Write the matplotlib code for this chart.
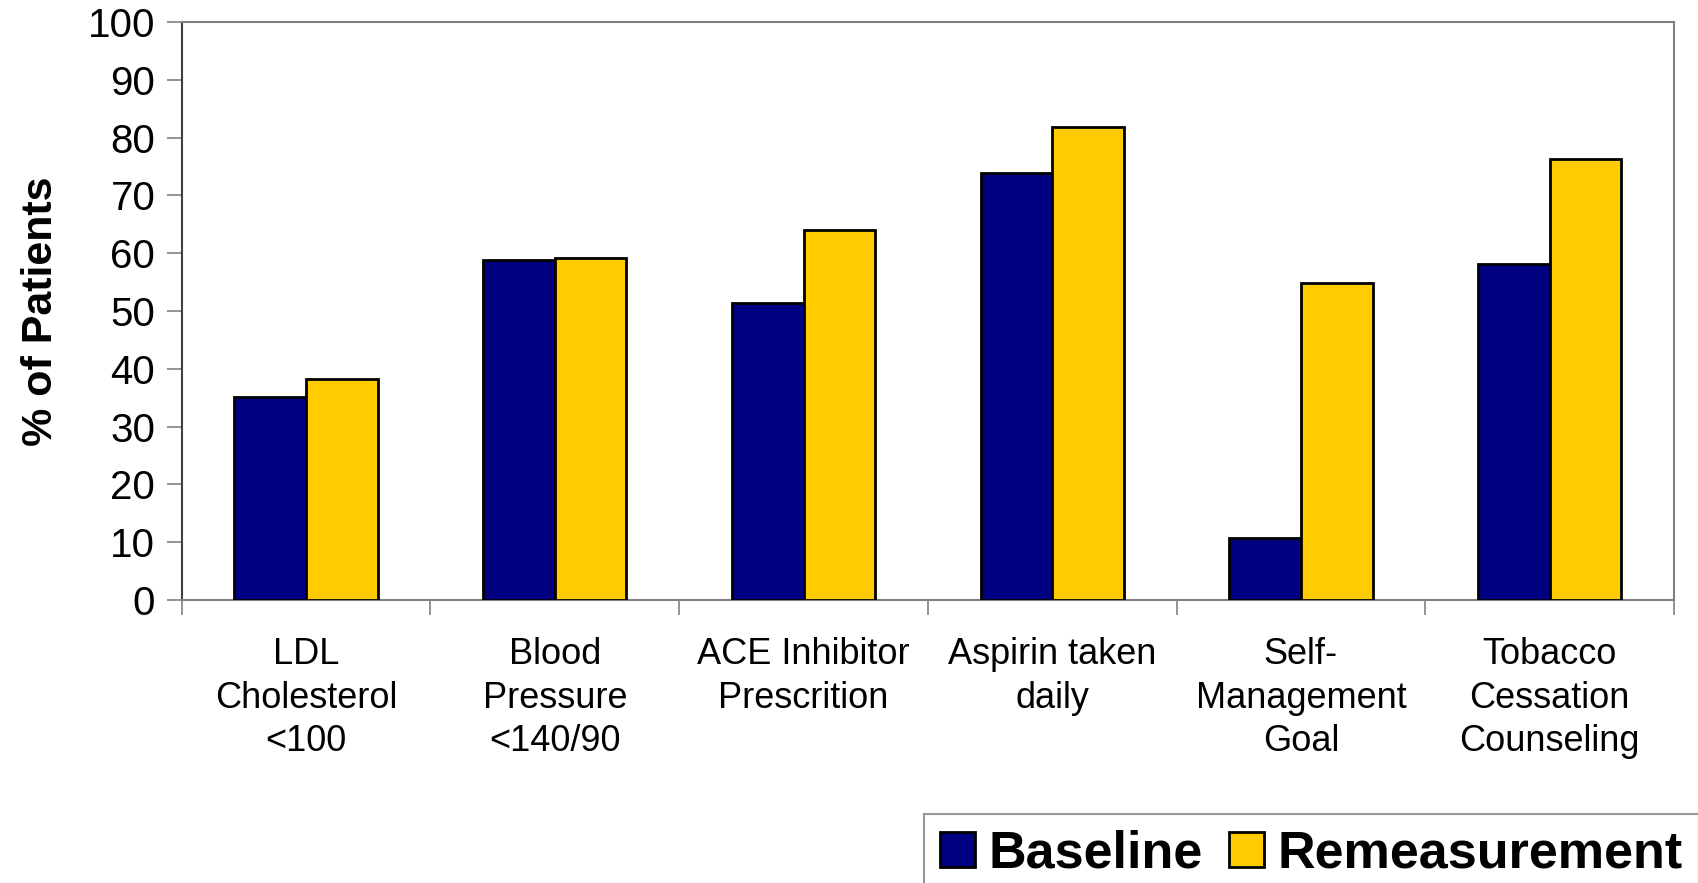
import numpy as np
import matplotlib.pyplot as plt

# categories and values
categories = ['LDL\nCholesterol\n<100', 'Blood\nPressure\n<140/90', 'ACE Inhibitor\nPrescrition',
              'Aspirin taken\ndaily', 'Self-\nManagement\nGoal', 'Tobacco\nCessation\nCounseling']
baseline = [35.1, 58.8, 51.3, 73.9, 10.7, 58.2]
remeasurement = [38.3, 59.2, 64.0, 81.8, 54.9, 76.3]
yticks = list(range(0, 101, 10))

plt.rcParams['font.family'] = ['Liberation Sans', 'DejaVu Sans']

fig = plt.figure(figsize=(16.98, 8.83), dpi=100)
ax = fig.add_axes([0.107, 0.3205, 0.8789, 0.6546])

x = np.arange(len(categories))
w = 0.288
ax.bar(x - w/2, baseline, w, color='#000080', edgecolor='black', linewidth=2, label='Baseline', zorder=3)
ax.bar(x + w/2, remeasurement, w, color='#FFCC00', edgecolor='black', linewidth=2, label='Remeasurement', zorder=3)

ax.set_xlim(-0.5, len(categories) - 0.5)
ax.set_ylim(0, 100)
ax.set_yticks(yticks)
ax.tick_params(axis='y', labelsize=29, length=11, width=1.2, color='#808080', pad=8)

# labels at category centres, tick marks at the boundaries
ax.set_xticks(x)
ax.set_xticklabels(categories, fontsize=26, linespacing=1.3)
ax.tick_params(axis='x', which='major', length=0, pad=27)
ax.set_xticks(np.arange(-0.5, len(categories)), minor=True)
ax.tick_params(axis='x', which='minor', length=11, width=1.2, color='#808080')

for s in ax.spines.values():
    s.set_color('#808080')
    s.set_linewidth(1.5)
ax.spines['left'].set_color('#404040')

ax.set_ylabel('% of Patients', fontsize=31, fontweight='bold')
ax.yaxis.set_label_coords(-0.081, 0.5)

leg = fig.legend(loc='upper left', bbox_to_anchor=(924/1698, 1 - 814/883), ncol=2,
                 prop={'size': 37.5, 'weight': 'bold'}, frameon=True, fancybox=False,
                 handlelength=0.67, handleheight=0.67, handletextpad=0.27, columnspacing=0.5,
                 borderpad=0.3, borderaxespad=0)
leg.get_frame().set_edgecolor('#808080')
leg.get_frame().set_linewidth(1.5)

plt.savefig('out.png', dpi=100)
